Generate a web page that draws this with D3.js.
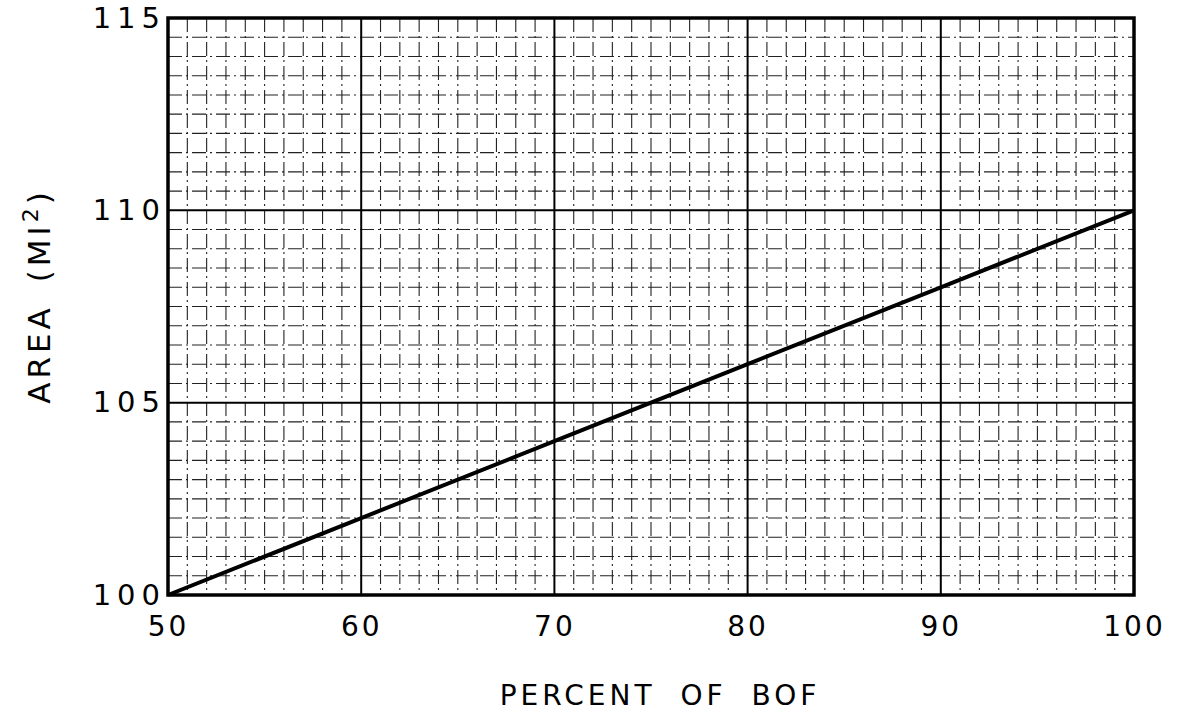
<!DOCTYPE html>
<html><head><meta charset="utf-8">
<script src="https://cdn.jsdelivr.net/npm/d3@7"></script>
<style>body{margin:0;background:#fff}text{font-family:"DejaVu Sans",sans-serif;fill:#000}</style>
</head><body>
<svg id="c" width="1180" height="717"></svg>
<script>
const percentOfBOF = [50, 60, 70, 80, 90, 100];
const areaMi2 = [100, 102, 104, 106, 108, 110];
const xTicks = [50, 60, 70, 80, 90, 100];
const yTicks = [100, 105, 110, 115];

const svg = d3.select("#c");
const L = 168, R = 1134, T = 18, B = 595;
const x = d3.scaleLinear().domain([50, 100]).range([L, R]);
const y = d3.scaleLinear().domain([100, 115]).range([B, T]);

const g = svg.append("g");
// minor grid
g.selectAll(".mx").data(d3.range(51, 100, 1).filter(v => v % 10 !== 0)).join("line")
  .attr("x1", d => x(d)).attr("x2", d => x(d)).attr("y1", T).attr("y2", B)
  .attr("stroke", "#222").attr("stroke-width", 1.1).attr("stroke-dasharray", "14,4,2,4");
g.selectAll(".my").data(d3.range(100.5, 115, 0.5).filter(v => v % 5 !== 0)).join("line")
  .attr("y1", d => y(d)).attr("y2", d => y(d)).attr("x1", L).attr("x2", R)
  .attr("stroke", "#222").attr("stroke-width", 1.1).attr("stroke-dasharray", "14,4,2,4");
// major grid
g.selectAll(".Mx").data(xTicks.slice(1, -1)).join("line")
  .attr("x1", d => x(d)).attr("x2", d => x(d)).attr("y1", T).attr("y2", B)
  .attr("stroke", "#000").attr("stroke-width", 2);
g.selectAll(".My").data(yTicks.slice(1, -1)).join("line")
  .attr("y1", d => y(d)).attr("y2", d => y(d)).attr("x1", L).attr("x2", R)
  .attr("stroke", "#000").attr("stroke-width", 2);
// border
g.append("rect").attr("x", L).attr("y", T).attr("width", R - L).attr("height", B - T)
  .attr("fill", "none").attr("stroke", "#000").attr("stroke-width", 3.5);

// axes (labels only)
const xAxis = d3.axisBottom(x).tickValues(xTicks).tickSize(0).tickPadding(21).tickFormat(d3.format("d"));
const gx = svg.append("g").attr("transform", `translate(0,${B})`).call(xAxis);
gx.select(".domain").remove();
gx.selectAll("text").attr("font-size", 28).attr("letter-spacing", 3).style("font-family", '"DejaVu Sans",sans-serif');

const yAxis = d3.axisLeft(y).tickValues(yTicks).tickSize(0).tickPadding(2).tickFormat(d3.format("d"));
const gy = svg.append("g").attr("transform", `translate(${L},0)`).call(yAxis);
gy.select(".domain").remove();
gy.selectAll("text").attr("font-size", 29).attr("letter-spacing", 6).style("font-family", '"DejaVu Sans",sans-serif');

// line
svg.append("path").datum(percentOfBOF.map((p, i) => [p, areaMi2[i]]))
  .attr("d", d3.line().x(d => x(d[0])).y(d => y(d[1])))
  .attr("fill", "none").attr("stroke", "#000").attr("stroke-width", 4);

// titles
svg.append("text").attr("x", 660).attr("y", 705).attr("text-anchor", "middle")
  .attr("font-size", 28).attr("letter-spacing", 4).attr("word-spacing", 12).text("PERCENT OF BOF");
const yt = svg.append("text").attr("transform", "translate(50,296) rotate(-90)")
  .attr("text-anchor", "middle").attr("font-size", 31).attr("letter-spacing", 4).attr("word-spacing", 8);
yt.append("tspan").text("AREA (MI");
yt.append("tspan").attr("dy", -12).attr("font-size", 22).text("2");
yt.append("tspan").attr("dy", 12).text(")");
</script>
</body></html>
